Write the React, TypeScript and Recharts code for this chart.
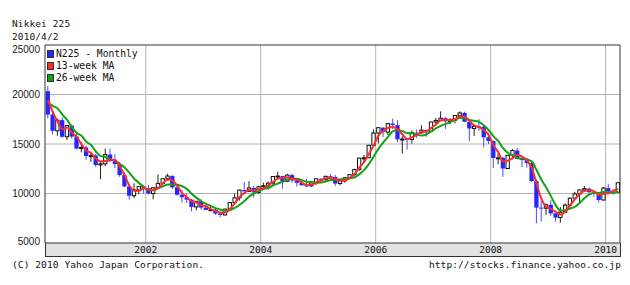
import { ComposedChart, Bar, Line, XAxis, YAxis, CartesianGrid, Legend } from 'recharts'

// monthly candles, Apr 2000 .. Mar 2010 (index 0 = Apr 2000)
const OPEN = [
  20337, 17973, 16332, 17411, 15727, 16861, 15747, 14539, 14648,
  13785, 13843, 12883, 12999, 13934, 13262, 12969, 11860, 10713, 9774, 10366, 10697,
  10542, 9997, 10587, 11024, 11492, 11763, 10621, 9877, 9619, 9383, 8640, 9215,
  8578, 8339, 8363, 7972, 7831, 8424, 9083, 9563, 10343, 10219, 10559, 10100,
  10676, 10783, 11041, 11715, 11761, 11236, 11858, 11325, 11081, 10823, 10771, 11072,
  11488, 11387, 11740, 11668, 11008, 11276, 11584, 11899, 12413, 13574, 13606, 14872,
  16111, 16649, 16205, 17059, 16906, 15467, 15505, 15456, 16140, 16127, 16399, 16274,
  17225, 17383, 17604, 17287, 17400, 17875, 18138, 17248, 16569, 16785, 16737, 15680,
  15307, 13592, 13603, 12525, 13849, 14338, 13481, 13376, 13072, 11259, 8576, 8512,
  8859, 7994, 7568, 8109, 8828, 9522, 9958, 10356, 10492, 10133, 10034, 9345,
  10546, 10198, 10126,
]
const HIGH = [
  20833, 18200, 17560, 17700, 16910, 16960, 16150, 15200, 14840,
  14190, 14030, 13300, 14530, 14530, 13970, 13190, 12150, 10940, 11030, 10760, 10830,
  10860, 10600, 11920, 11500, 11980, 11850, 10950, 10380, 9990, 9440, 9220, 9430,
  8800, 8700, 8550, 8220, 8460, 9140, 10000, 10400, 11160, 11240, 10780, 10790,
  11100, 11200, 11770, 12195, 11800, 11990, 12000, 11360, 11280, 11490, 11200, 11490,
  11550, 11750, 11980, 11860, 11300, 11620, 11900, 12500, 13620, 13880, 14900, 16450,
  16650, 16700, 17100, 17560, 17400, 15800, 15600, 16370, 16450, 16900, 16430, 17240,
  17620, 18300, 17720, 17600, 17900, 18300, 18260, 17450, 16940, 17500, 16800, 16100,
  15360, 14040, 13720, 13900, 14490, 14600, 13610, 13630, 13170, 11400, 9500, 9000,
  9330, 8000, 8630, 9000, 9600, 10170, 10390, 10770, 10600, 10340, 10100, 10640,
  10980, 10230, 11100,
]
const LOW = [
  17590, 15960, 15830, 15630, 15400, 15570, 14450, 14150, 13400,
  13180, 12690, 11430, 12770, 13200, 12570, 11690, 10640, 9380, 9530, 9920, 10000,
  9900, 9420, 10530, 10870, 11320, 10470, 9790, 9080, 9050, 8200, 8300, 8370,
  8310, 8230, 7860, 7600, 7780, 8350, 9040, 9280, 10190, 10180, 9610, 9950,
  10580, 10370, 10820, 11500, 10490, 11150, 11100, 10690, 10820, 10650, 10660, 10850,
  11200, 11310, 11560, 10770, 10830, 11090, 11540, 11790, 12300, 13090, 13600, 14850,
  15060, 15700, 15900, 16500, 15200, 14050, 14440, 15050, 15610, 16070, 15720, 16200,
  16950, 17300, 16530, 17030, 17100, 17650, 17200, 15270, 15800, 16330, 14670, 15000,
  12570, 12950, 11690, 12500, 13450, 13480, 12670, 12610, 11160, 6990, 7160, 7860,
  7740, 7170, 7050, 8050, 8690, 9400, 9050, 10150, 10000, 9680, 9080, 9300,
  10180, 9870, 10120,
]
const CLOSE = [
  17973, 16332, 17411, 15727, 16861, 15747, 14539, 14648, 13785,
  13843, 12883, 12999, 13934, 13262, 12969, 11860, 10713, 9774, 10366, 10697, 10542,
  9997, 10587, 11024, 11492, 11763, 10621, 9877, 9619, 9383, 8640, 9215, 8578,
  8339, 8363, 7972, 7831, 8424, 9083, 9563, 10343, 10219, 10559, 10100, 10676,
  10783, 11041, 11715, 11761, 11236, 11858, 11325, 11081, 10823, 10771, 11072, 11488,
  11387, 11740, 11668, 11008, 11276, 11584, 11899, 12413, 13574, 13606, 14872, 16111,
  16649, 16205, 17059, 16906, 15467, 15505, 15456, 16140, 16127, 16399, 16274, 17225,
  17383, 17604, 17287, 17400, 17875, 18138, 17248, 16569, 16785, 16737, 15680, 15307,
  13592, 13603, 12525, 13849, 14338, 13481, 13376, 13072, 11259, 8576, 8512, 8859,
  7994, 7568, 8109, 8828, 9522, 9958, 10356, 10492, 10133, 10034, 9345, 10546,
  10198, 10126, 11089,
]
const MA13 = [
  19423, 18214, 17239, 16490, 16666, 16112, 15716, 14978, 14324,
  14092, 13504, 13242, 13272, 13398, 13388, 12697, 11847, 10782, 10284, 10279, 10535,
  10412, 10375, 10536, 11034, 11426, 11292, 10754, 10039, 9626, 9214, 9079, 8811,
  8711, 8427, 8225, 8055, 8076, 8446, 9023, 9663, 10042, 10374, 10293, 10445,
  10520, 10833, 11180, 11506, 11571, 11618, 11473, 11421, 11076, 10892, 10889, 11110,
  11316, 11538, 11598, 11472, 11317, 11289, 11586, 11965, 12629, 13198, 14017, 14863,
  15877, 16322, 16638, 16723, 16477, 15959, 15476, 15700, 15908, 16222, 16267, 16633,
  16961, 17404, 17425, 17430, 17521, 17804, 17754, 17318, 16867, 16697, 16401, 15908,
  14860, 14167, 13240, 13326, 13571, 13889, 13732, 13310, 12569, 10969, 9449, 8649,
  8455, 8140, 7890, 8168, 8820, 9436, 9945, 10269, 10327, 10220, 9837, 9975,
  10030, 10290, 10471,
]
const MA26 = [
  19217, 18846, 18592, 17957, 17440, 16675, 16103, 15822, 15218,
  14904, 14241, 13783, 13682, 13451, 13315, 12985, 12623, 12085, 11491, 11063, 10659,
  10348, 10327, 10536, 10723, 10901, 10914, 10894, 10733, 10459, 9984, 9559, 9219,
  8962, 8753, 8518, 8383, 8251, 8335, 8539, 8869, 9244, 9699, 9978, 10243,
  10447, 10563, 10812, 11013, 11202, 11399, 11489, 11496, 11347, 11182, 11155, 11093,
  11104, 11214, 11354, 11394, 11428, 11444, 11529, 11641, 11959, 12392, 12991, 13746,
  14538, 15170, 15750, 16300, 16400, 16299, 16100, 16089, 15934, 15849, 15984, 16270,
  16591, 16835, 17029, 17196, 17462, 17615, 17592, 17420, 17336, 17225, 16860, 16388,
  15778, 15284, 14574, 14093, 13869, 13565, 13529, 13440, 13229, 12350, 11379, 10609,
  9712, 8795, 8270, 8312, 8480, 8663, 9057, 9544, 9882, 10083, 10053, 10151,
  10125, 10064, 10223,
]

const Y_TICKS = [5000, 10000, 15000, 20000, 25000]
const Y_GRID = [10000, 15000, 20000]
const YEAR_TICKS = [20.4, 44.4, 68.4, 92.4, 116.4]
const YEAR_LABELS = ['2002', '2004', '2006', '2008', '2010']
const HALF_YEAR_TICKS = [
  2.4, 8.4, 14.4, 20.4, 26.4, 32.4, 38.4, 44.4, 50.4, 56.4,
  62.4, 68.4, 74.4, 80.4, 86.4, 92.4, 98.4, 104.4, 110.4, 116.4,
]
const LEGEND_ORDER = ['N225 - Monthly', '13-week MA', '26-week MA']
const X_DOMAIN = [-0.63, 119.4]
const Y_DOMAIN = [5000, 25000]

const data = OPEN.map((o, i) => ({
  i,
  open: o,
  high: HIGH[i],
  low: LOW[i],
  close: CLOSE[i],
  range: [LOW[i], HIGH[i]],
  ma13: MA13[i],
  ma26: MA26[i],
}))

const MONO = '"DejaVu Sans Mono", "Liberation Mono", monospace'
const BORDER = '#333'

function Candle(props: any) {
  const { x, y, width, height, payload } = props
  if (!payload || height == null) return null
  const { open, close, high, low } = payload
  const top = Math.min(y, y + height)
  const h = Math.abs(height)
  const toY = (v: number) => top + ((high - v) / (high - low)) * h
  const cx = x + width / 2
  const up = close >= open
  const yo = toY(open)
  const yc = toY(close)
  const bodyTop = Math.min(yo, yc)
  const bodyH = Math.max(1, Math.abs(yc - yo))
  return (
    <g>
      <line x1={cx} x2={cx} y1={top} y2={top + h} stroke={up ? '#222' : '#4a4aff'} strokeWidth={1} />
      {up ? (
        <rect x={x + 0.5} y={bodyTop} width={width - 1} height={bodyH} fill="#fff" stroke="#111" strokeWidth={1} />
      ) : (
        <rect x={x} y={bodyTop} width={width} height={bodyH} fill="#2626ff" />
      )}
    </g>
  )
}

function YTick(props: any) {
  const { x, y, payload } = props
  const v = payload.value
  const nudge = v === 25000 ? 4 : v === 5000 ? -2 : 0
  return (
    <text x={x} y={y + nudge} dy="0.35em" textAnchor="end" fontSize={10}
      fontFamily='"Liberation Sans", Arial, sans-serif' fill="#222">
      {v}
    </text>
  )
}

function YearTick(props: any) {
  const { x, y, payload } = props
  const label = YEAR_LABELS[YEAR_TICKS.indexOf(payload.value)]
  return (
    <text x={x} y={y + 9.5} textAnchor="middle" fontSize={9.5} fontFamily={MONO} fill="#111">
      {label}
    </text>
  )
}

function LegendBox(props: any) {
  const items = [...(props.payload || [])].sort(
    (a: any, b: any) => LEGEND_ORDER.indexOf(a.value) - LEGEND_ORDER.indexOf(b.value),
  )
  return (
    <div style={{ background: '#fff', padding: '1px 2px 2px 1px', fontFamily: MONO, fontSize: 9.7, color: '#111' }}>
      {items.map((it: any) => (
        <div key={it.value} style={{ display: 'flex', alignItems: 'center', height: 12, lineHeight: '12px' }}>
          <span style={{ width: 5, height: 6, background: it.color, border: '1px solid #333', marginRight: 2 }} />
          <span>{it.value}</span>
        </div>
      ))}
    </div>
  )
}

export default function App() {
  return (
    <div style={{ position: 'absolute', left: 0, top: 0, width: 630, height: 285, background: '#fff', color: '#111' }}>
      <div style={{ position: 'absolute', left: 12, top: 17, fontFamily: MONO, fontSize: 9.5, letterSpacing: 0.1, lineHeight: '13px' }}>
        Nikkei 225
      </div>
      <div style={{ position: 'absolute', left: 12, top: 30, fontFamily: MONO, fontSize: 9.5, letterSpacing: 0.1, lineHeight: '13px' }}>
        2010/4/2
      </div>
      {/* gray date band under the plot */}
      <div style={{
        position: 'absolute', left: 44.5, top: 243, width: 576, height: 14, boxSizing: 'border-box',
        background: '#e2e2e2', borderLeft: `1px solid ${BORDER}`, borderRight: `1px solid ${BORDER}`,
        borderBottom: `1px solid ${BORDER}`,
      }} />
      <div style={{ position: 'absolute', left: 0, top: 0 }}>
        <ComposedChart width={630} height={285} data={data} margin={{ top: 45, right: 10, bottom: 28, left: 0 }}>
          <CartesianGrid stroke="#b4b4b4" horizontalValues={Y_GRID} verticalValues={YEAR_TICKS} />
          <XAxis dataKey="i" type="number" domain={X_DOMAIN} allowDataOverflow ticks={YEAR_TICKS} interval={0}
            height={14} tickLine={false} tickSize={0} tickMargin={0} axisLine={{ stroke: BORDER }} tick={<YearTick />} />
          <XAxis xAxisId="top" orientation="top" mirror type="number" domain={X_DOMAIN} allowDataOverflow
            ticks={HALF_YEAR_TICKS} interval={0} tick={false} tickSize={3} tickLine={{ stroke: BORDER }}
            axisLine={{ stroke: BORDER }} />
          <XAxis xAxisId="bottomMinor" orientation="bottom" mirror type="number" domain={X_DOMAIN} allowDataOverflow
            ticks={HALF_YEAR_TICKS} interval={0} tick={false} tickSize={3} tickLine={{ stroke: BORDER }}
            axisLine={false} />
          <YAxis type="number" domain={Y_DOMAIN} allowDataOverflow ticks={Y_TICKS} interval={0} width={45}
            tickLine={false} tickSize={3} tickMargin={2} axisLine={{ stroke: BORDER }} tick={<YTick />} />
          <YAxis yAxisId="leftMinor" orientation="left" mirror type="number" domain={Y_DOMAIN} allowDataOverflow
            ticks={Y_GRID} interval={0} tick={false} tickSize={3} tickLine={{ stroke: BORDER }} axisLine={false} />
          <YAxis yAxisId="rightMinor" orientation="right" mirror type="number" domain={Y_DOMAIN} allowDataOverflow
            ticks={Y_GRID} interval={0} tick={false} tickSize={3} tickLine={{ stroke: BORDER }}
            axisLine={{ stroke: BORDER }} />
          <Bar dataKey="range" name="N225 - Monthly" barSize={5} fill="#2626ff" isAnimationActive={false}
            shape={(p: any) => <Candle {...p} />} />
          <Line dataKey="ma26" name="26-week MA" type="monotone" stroke="#12a312" strokeWidth={2} dot={false}
            activeDot={false} isAnimationActive={false} />
          <Line dataKey="ma13" name="13-week MA" type="monotone" stroke="#ff2a2a" strokeWidth={2} dot={false}
            activeDot={false} isAnimationActive={false} />
          <Legend layout="vertical" align="center" verticalAlign="middle" content={<LegendBox />}
            wrapperStyle={{ left: 46, top: 47, width: 'auto', height: 'auto' }} />
        </ComposedChart>
      </div>
      <div style={{ position: 'absolute', left: 12, top: 258, fontFamily: MONO, fontSize: 9.5, letterSpacing: 0.1, lineHeight: '13px' }}>
        (C) 2010 Yahoo Japan Corporation.
      </div>
      <div style={{ position: 'absolute', right: 9, top: 258, fontFamily: MONO, fontSize: 9.5, letterSpacing: 0.1, lineHeight: '13px' }}>
        http://stocks.finance.yahoo.co.jp
      </div>
    </div>
  )
}
